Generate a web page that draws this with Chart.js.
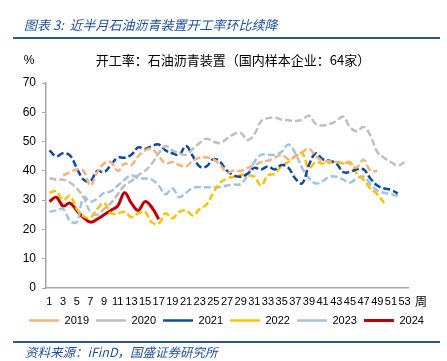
<!DOCTYPE html>
<html>
<head>
<meta charset="utf-8">
<script src="https://cdn.jsdelivr.net/npm/chart.js@4"></script>
<style>
  body { margin: 0; background: #fff; }
  #wrap { position: relative; width: 447px; height: 361px; overflow: hidden; }
  #c { position: absolute; left: 0; top: 0; }
  .head { position: absolute; left: 24px; top: 15px; font: italic 13px "Noto Sans CJK SC", sans-serif; color: #1F4E9A; white-space: pre; }
  .rule { position: absolute; left: 13px; width: 427px; height: 2px; background: #2F5597; }
  .src { position: absolute; left: 25px; top: 342px; font: italic 12.5px "Noto Sans CJK SC", sans-serif; color: #1F4E9A; white-space: nowrap; }
</style>
</head>
<body>
<div id="wrap">
  <canvas id="c" width="447" height="361"></canvas>
  <div class="head">图表 3:  近半月石油沥青装置开工率环比续降</div>
  <div class="rule" style="top:37px"></div>
  <div class="rule" style="top:341px"></div>
  <div class="src">资料来源：iFinD，国盛证券研究所</div>
</div>
<script>
// weeks 1..53
var weeks = ['1','2','3','4','5','6','7','8','9','10','11','12','13','14','15','16','17','18','19','20',
  '21','22','23','24','25','26','27','28','29','30','31','32','33','34','35','36','37','38','39','40',
  '41','42','43','44','45','46','47','48','49','50','51','52','53'];

var y2019 = [null, null, 38.5, 39.5, 40.5, 40, 35, 39.5, 42.5, 43, 40, 42.5, 42, 45, 47, 47.5, 45, 42.5, 43, 42,
  41.5, 43.5, 44.5, 44.6, 44, 42, 39.5, 40, 40, 41, 41.8, 43, 43.5, 44.5, 45.5, 44, 45, 46.3, 47.6, 45,
  43.5, 43.3, 43, 42.8, 42.5, 41.2, 43.8, 40, 40, null, null, null, null];
var y2020 = [37.5, 37, 37, 36, 34, 31, 26, 25, 27, 29, 32, 35, 36.5, 38.5, 40, 42.5, 46, 48.5, 47, 46,
  45.5, 47.5, 49.5, 51, 50, 49.5, 51, 52.5, 53, 50.5, 52.5, 57, 58, 58.2, 57.5, 57.3, 57, 57.5, 58.8, 56,
  55.5, 56, 57, 58.5, 55, 53.5, 55, 52, 46.5, 44.5, 43, 41.8, 43];
var y2021 = [47, 45, 46, 45.3, 41, 37, 36.5, 40, 39.5, 42, 44.5, 44.5, 45.5, 48, 47.5, 48.5, 49, 47, 46, 45.5,
  48.5, 45, 41.5, 41.5, 44, 43, 40, 38.5, 38, 39, 41, 40.5, 41.5, 40.5, 42, 41, 37.4, 35.7, 42, 46,
  44, 43.5, 42.5, 39.6, 39.6, 40.5, 40.5, 37.4, 35, 34, 33.5, 32.3, null];
var y2022 = [32.5, 33, 30, 31.5, 27, 24.5, 24, 27, 29, 25.5, 25.5, 26, 24.2, 25.5, 26, 22.4, 22, 25.5, 23.8, 26,
  26.5, 24.8, 27, 28.5, 32.5, 36, 37.4, 38, 38.5, 38.5, 38, 35, 38.5, 39, 41.8, 43, 45, 46, 41, 43,
  42.5, 42.8, 43, 42.5, 43, 39, 37, 34, 32, 29, null, null, null];
var y2023 = [26, 26.5, 27, 23, 22.5, 31, 29.5, 30.5, 32.5, 33, 35, 37, 38.5, 37.5, 37.4, 37, 35, 32, 34, 31,
  32.5, 34.2, 34.4, 34.4, 34.4, 34.5, 35, 35.3, 35.5, 38.5, 43, 45.5, 45.5, 45.5, 46.5, 49, 46, 41, 37.5, 35.7,
  36.5, 38, 38, 37, 36, 37.4, 38, 35.5, 33.3, 32.5, 32, 31.5, null];
var y2024 = [29.5, 31, 28, 29, 26.5, 24, 22.5, 23.5, 25, 26.5, 28, 32.5, 29, 26.5, 29.5, 27.5, 23.5];

var years = ['2019', '2020', '2021', '2022', '2023', '2024'];
var colors = ['#F4B183', '#BFBFBF', '#0B4A9E', '#FFC000', '#9DC3E6', '#C00000'];
var series = [y2019, y2020, y2021, y2022, y2023, y2024];

var tickFont = { family: "'Liberation Sans', Arial, sans-serif", size: 11 };

var datasets = series.map(function (d, i) {
  var solid = years[i] === '2024';
  return {
    label: years[i],
    data: d,
    borderColor: colors[i],
    backgroundColor: colors[i],
    borderWidth: solid ? 3 : 2.5,
    borderDash: solid ? [] : [7, 3],
    pointRadius: 0,
    tension: 0.4,
    spanGaps: false
  };
});

var extraText = {
  id: 'extraText',
  afterDraw: function (chart) {
    var ctx = chart.ctx, a = chart.chartArea;
    ctx.save();
    ctx.fillStyle = '#000';
    ctx.textBaseline = 'middle';
    ctx.textAlign = 'center';
    ctx.font = "13px 'Noto Sans CJK SC', sans-serif";
    ctx.fillText('开工率：石油沥青装置（国内样本企业：64家）', 233, 60);
    ctx.font = "12px 'Liberation Sans', Arial, sans-serif";
    ctx.fillText('%', 29, 61);
    ctx.font = "12px 'Noto Sans CJK SC', sans-serif";
    ctx.fillText('周', a.right + 13, 301);
    ctx.restore();
  }
};

new Chart(document.getElementById('c'), {
  type: 'line',
  data: { labels: weeks, datasets: datasets },
  plugins: [extraText],
  options: {
    responsive: false,
    animation: false,
    layout: { padding: { top: 83, left: 6, right: 0, bottom: 25 } },
    plugins: {
      tooltip: { enabled: false },
      legend: {
        position: 'bottom',
        labels: {
          usePointStyle: true,
          pointStyle: 'line',
          pointStyleWidth: 30,
          boxHeight: 11,
          padding: 7,
          color: '#000',
          font: tickFont
        }
      }
    },
    scales: {
      x: {
        offset: true,
        grid: { display: false, drawTicks: false },
        border: { color: '#A6A6A6', width: 1.5 },
        ticks: {
          autoSkip: false, maxRotation: 0, minRotation: 0, padding: 7,
          color: '#000', font: tickFont,
          callback: function (v, i) { return i % 2 === 0 ? weeks[i] : ''; }
        },
        afterFit: function (s) { s.height = 20; }
      },
      y: {
        min: 0, max: 70,
        grid: { drawOnChartArea: false, tickLength: 4, color: '#A6A6A6' },
        border: { color: '#A6A6A6', width: 1.5 },
        ticks: { stepSize: 10, padding: 6, color: '#000', font: { family: tickFont.family, size: 12 } },
        afterFit: function (s) { s.width = 40; }
      },
      y2: {
        position: 'right',
        grid: { display: false },
        border: { display: false },
        ticks: { display: false },
        afterFit: function (s) { s.width = 39; }
      }
    }
  }
});
</script>
</body>
</html>
